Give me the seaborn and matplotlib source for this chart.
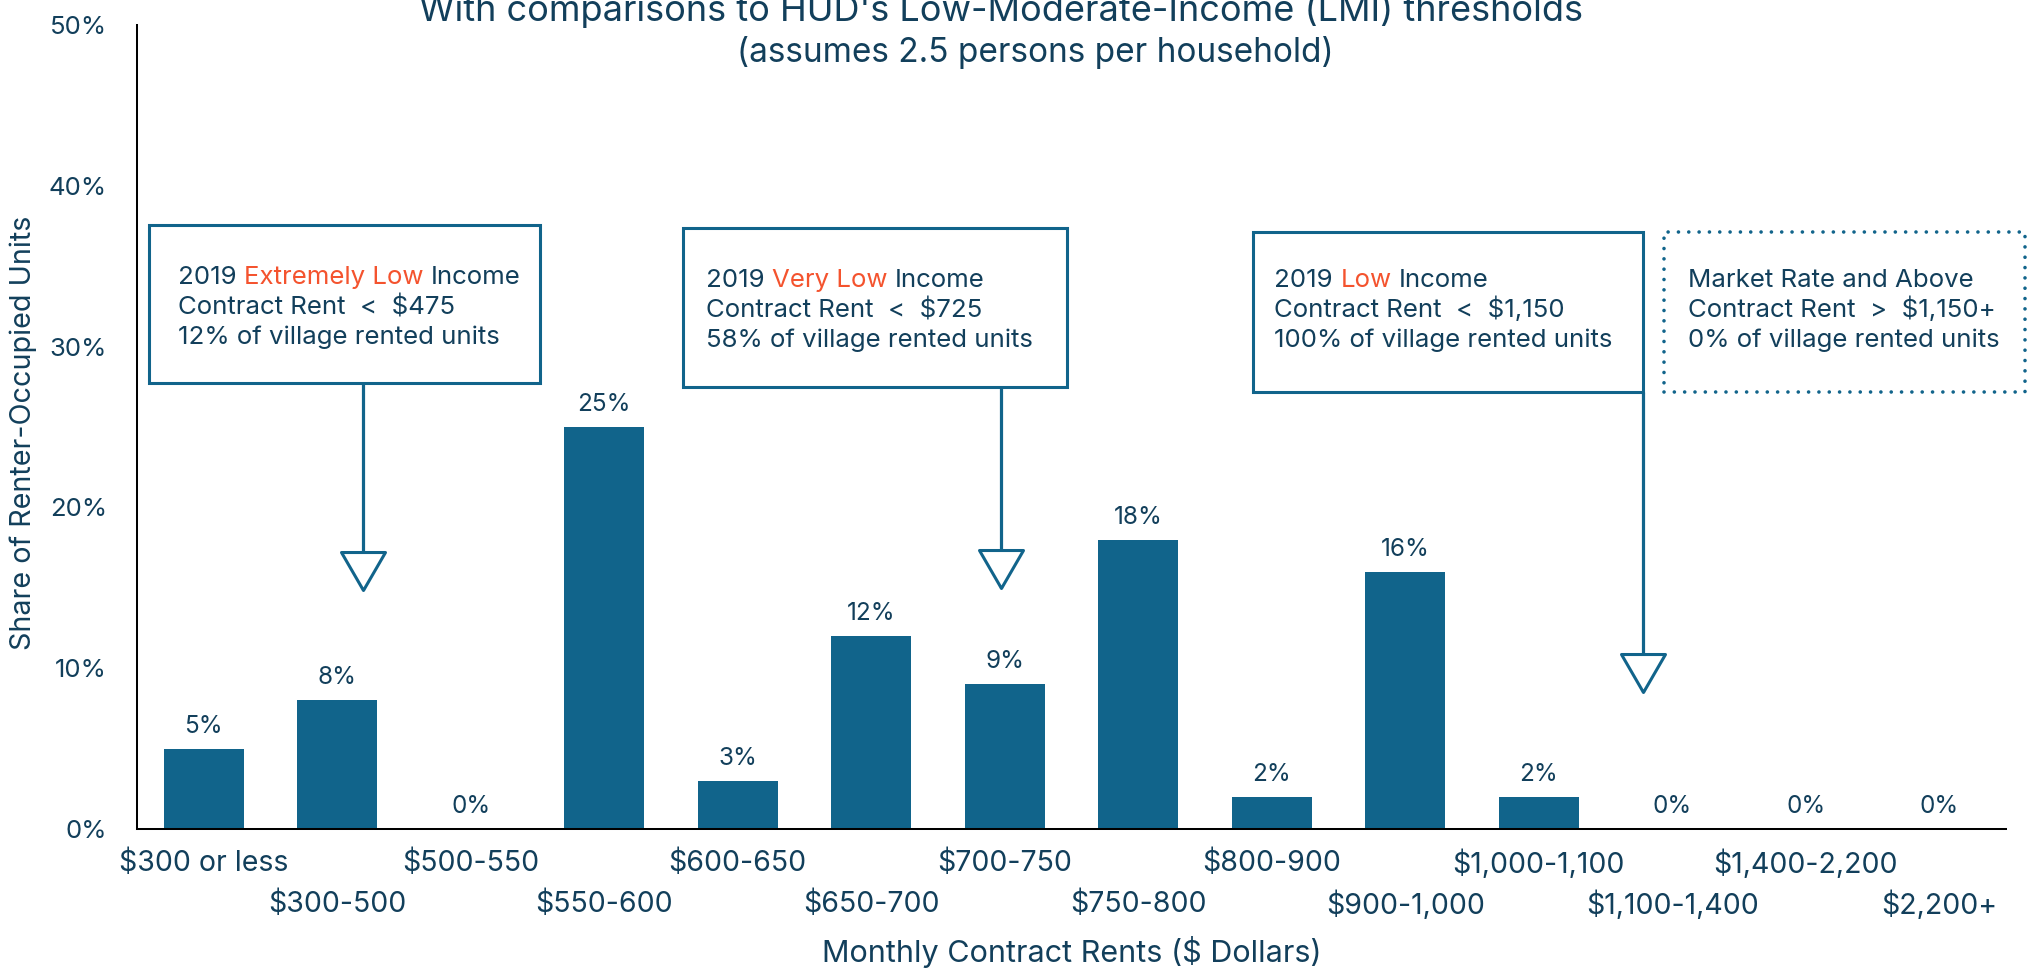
import matplotlib
matplotlib.use("Agg")
import matplotlib.pyplot as plt
from matplotlib.patches import Rectangle
from matplotlib.path import Path
import seaborn as sns
import pandas as pd

# ---- data -----------------------------------------------------------------
rent_bins = ["$300 or less", "$300-500", "$500-550", "$550-600", "$600-650",
             "$650-700", "$700-750", "$750-800", "$800-900", "$900-1,000",
             "$1,000-1,100", "$1,100-1,400", "$1,400-2,200", "$2,200+"]
unit_share = [5, 8, 0, 25, 3, 12, 9, 18, 2, 16, 2, 0, 0, 0]
y_ticks = [0, 10, 20, 30, 40, 50]
y_tick_labels = [f"{t}%" for t in y_ticks]

title_line1 = "With comparisons to HUD's Low-Moderate-Income (LMI) thresholds"
title_line2 = "(assumes 2.5 persons per household)"
x_title = "Monthly Contract Rents ($ Dollars)"
y_title = "Share of Renter-Occupied Units"

# threshold callouts: list of lines, each line a list of (text, highlighted)
callout_text = [
    [[("2019", False), ("Extremely Low", True), ("Income", False)],
     [("Contract Rent  <  $475", False)],
     [("12% of village rented units", False)]],
    [[("2019", False), ("Very Low", True), ("Income", False)],
     [("Contract Rent  <  $725", False)],
     [("58% of village rented units", False)]],
    [[("2019", False), ("Low", True), ("Income", False)],
     [("Contract Rent  <  $1,150", False)],
     [("100% of village rented units", False)]],
    [[("Market Rate and Above", False)],
     [("Contract Rent  >  $1,150+", False)],
     [("0% of village rented units", False)]],
]

# ---- styling --------------------------------------------------------------
BAR = "#11648b"
NAVY = "#123f5b"
ACCENT = "#f4532e"
FONT = ["Inter", "DejaVu Sans"]

sns.set_theme(style="white")
plt.rcParams["font.family"] = FONT

W, H = 2028, 969
fig, ax = plt.subplots(figsize=(W / 100, H / 100), dpi=100)
fig.subplots_adjust(left=137 / W, right=2006 / W, bottom=1 - 829 / H, top=1 - 25 / H)

df = pd.DataFrame({"rent": rent_bins, "share": unit_share})
sns.barplot(data=df, x="rent", y="share", color=BAR, saturation=1,
            width=0.6, ax=ax, edgecolor="none")

ax.set_xlim(-0.5, 13.5)
ax.set_ylim(0, 50)
ax.set_yticks(y_ticks)
ax.set_yticklabels(y_tick_labels)
ax.set_xticks(range(len(rent_bins)))
ax.set_xticklabels(rent_bins)

for side in ("top", "right"):
    ax.spines[side].set_visible(False)
for side in ("left", "bottom"):
    ax.spines[side].set_color("black")
    ax.spines[side].set_linewidth(1.45)

ax.tick_params(axis="both", length=13.7, width=1.45, color="black",
               labelcolor=NAVY, direction="out")
ax.tick_params(axis="y", pad=8, labelsize=18.5)
ax.tick_params(axis="x", labelsize=20.5)
for i, tick in enumerate(ax.xaxis.get_major_ticks()):
    tick.set_pad(1 if i % 2 == 0 else 30.5)

ax.set_xlabel(x_title, fontsize=22, color=NAVY, va="center")
ax.xaxis.set_label_coords(0.5, (829 - 952) / 804)
ax.set_ylabel(y_title, fontsize=20.7, color=NAVY, va="center")
ax.yaxis.set_label_coords((23 - 137) / 1869, (829 - 433) / 804)

# value labels above each bar
for i, v in enumerate(unit_share):
    ax.annotate(f"{v}%", (i, v), xytext=(0, 11.5), textcoords="offset points",
                ha="center", va="baseline", fontsize=17.5, color=NAVY)

# titles
fig.text(1001 / W, 1 - 21 / H, title_line1, ha="center", va="baseline",
         fontsize=26, color=NAVY)
fig.text(1035 / W, 1 - 62 / H, title_line2, ha="center", va="baseline",
         fontsize=24, color=NAVY)

# ---- threshold callouts ---------------------------------------------------
box_x0 = [-0.41, 3.59, 7.86, 10.94]
box_x1 = [2.52, 6.47, 10.78, 13.64]
box_y0 = [27.74, 27.49, 27.18, 27.18]
box_y1 = [37.56, 37.38, 37.13, 37.13]
box_dotted = [False, False, False, True]
text_x = [-0.19, 3.76, 8.02, 11.12]
text_y = [33.89, 33.7, 33.7, 33.7]
LINE_STEP = 21.6  # points between callout lines

arrow_x = [1.19, 5.97, 10.78]
arrow_from = [27.74, 27.49, 27.18]
arrow_tip = [14.86, 14.96, 8.52]

for x0, x1, y0, y1, dotted in zip(box_x0, box_x1, box_y0, box_y1, box_dotted):
    rect = Rectangle((x0, y0), x1 - x0, y1 - y0, fill=False, edgecolor=BAR,
                     linewidth=2.2, clip_on=False, zorder=4)
    if dotted:
        rect.set_linestyle((0, (0.01, 2.85)))
        rect.set_capstyle("round")
        rect.set_linewidth(2.6)
    else:
        rect.set_joinstyle("miter")
    ax.add_patch(rect)

renderer = fig.canvas.get_renderer()
CALLOUT_SIZE = 18.6


def text_width(s):
    t = fig.text(0, 0, s, fontsize=CALLOUT_SIZE)
    w = t.get_window_extent(renderer).width
    t.remove()
    return w * 72 / fig.dpi


space_w = text_width("x x") - text_width("xx")

for lines, tx, ty in zip(callout_text, text_x, text_y):
    for k, segs in enumerate(lines):
        for j, (s, hl) in enumerate(segs):
            dx = 0.0
            if j > 0:
                dx = text_width(" ".join(p for p, _ in segs[:j])) + space_w
            ax.annotate(s, (tx, ty), xytext=(dx, -k * LINE_STEP),
                        textcoords="offset points", ha="left", va="baseline",
                        fontsize=CALLOUT_SIZE, color=ACCENT if hl else NAVY,
                        annotation_clip=False, zorder=5)

# hollow downward triangle, tip at the origin
tri = Path([(-22, 38), (22, 38), (0, 0), (-22, 38)],
           [Path.MOVETO, Path.LINETO, Path.LINETO, Path.CLOSEPOLY])
for x, y_from, y_tip in zip(arrow_x, arrow_from, arrow_tip):
    ax.plot([x, x], [y_from, y_tip], color=BAR, linewidth=2.3,
            clip_on=False, zorder=4, solid_capstyle="butt")
    ax.plot([x], [y_tip], marker=tri, markersize=54.7, markerfacecolor="white",
            markeredgecolor=BAR, markeredgewidth=2.2, clip_on=False, zorder=5,
            linestyle="none")

fig.savefig("out.png", dpi=100)
